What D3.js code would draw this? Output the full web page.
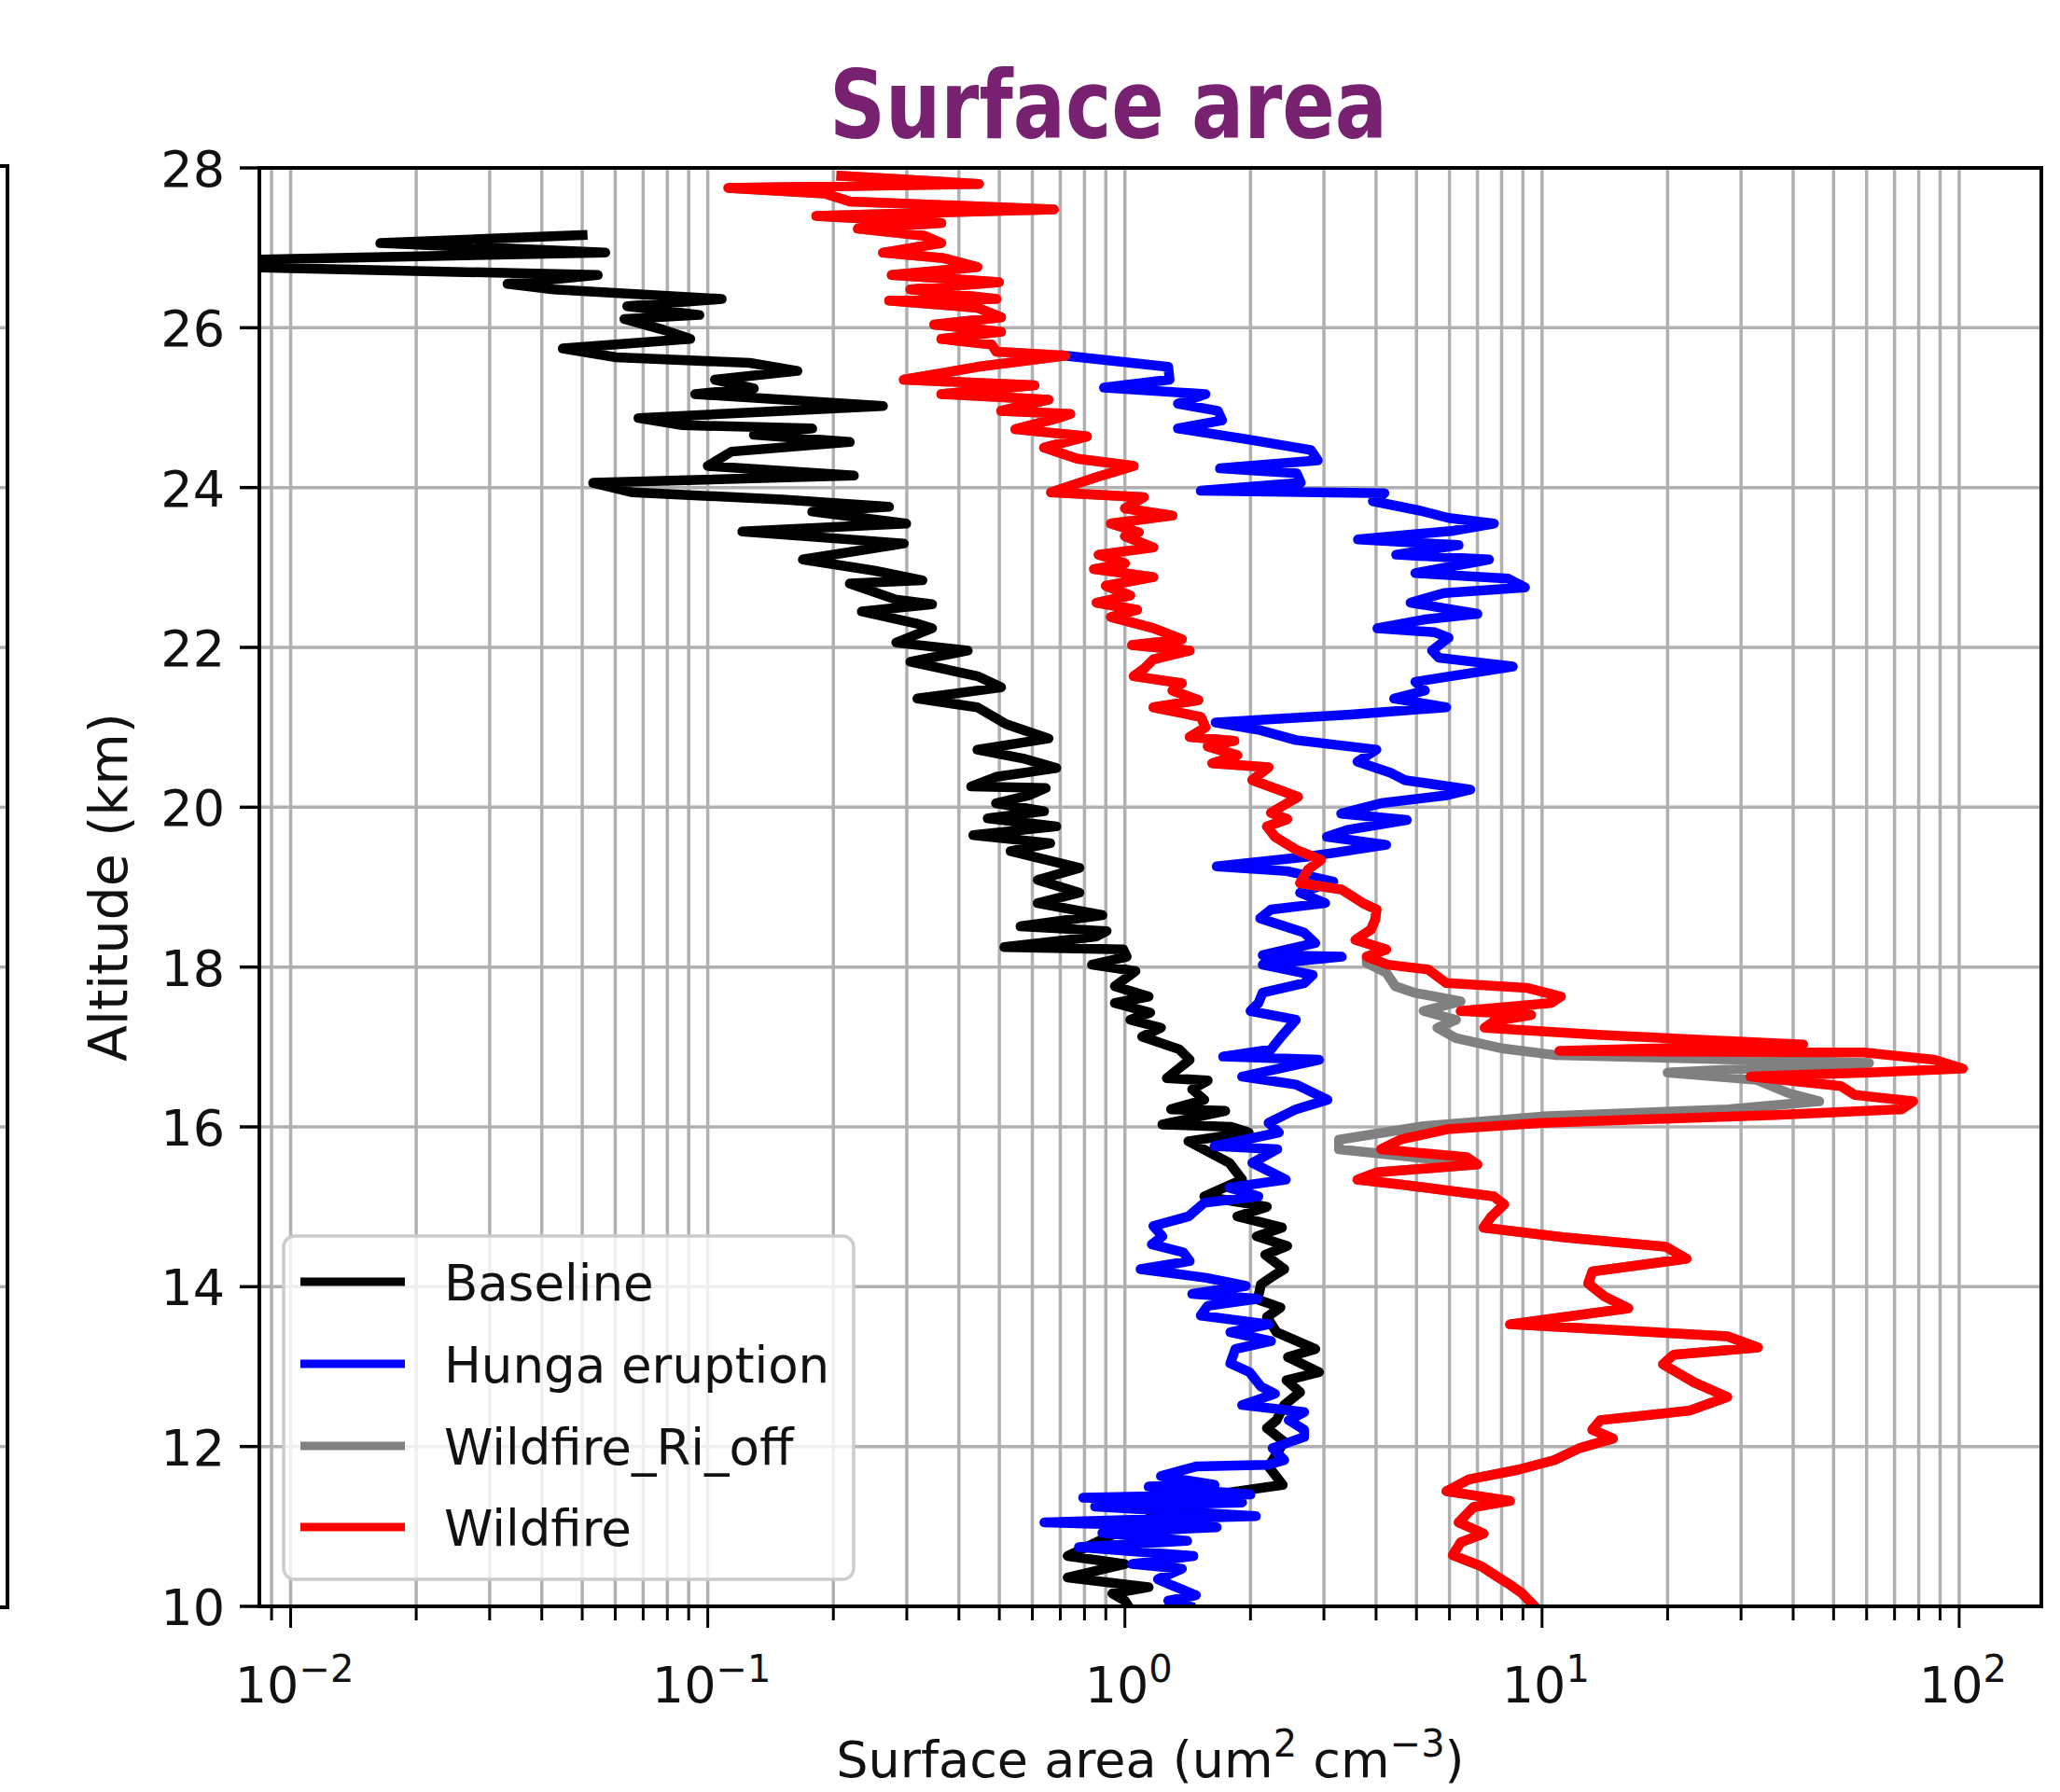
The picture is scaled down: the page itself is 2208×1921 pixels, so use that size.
<!DOCTYPE html>
<html>
<head>
<meta charset="utf-8">
<script src="https://cdn.jsdelivr.net/npm/d3@7"></script>
<style>
  body { margin: 0; background: #fff; }
  svg { display: block; }
  text { font-family: "DejaVu Sans", sans-serif; fill: #111; }
</style>
</head>
<body>
<svg id="chart" width="2208" height="1921"></svg>
<script>
// [altitude km, surface area um2 cm-3] from top to bottom
var baseline = [[27.16,0.0501],[27.06,0.0164],[26.94,0.0568],[26.83,0.005],[26.78,0.005],[26.66,0.0545],[26.55,0.0331],[26.48,0.0427],[26.36,0.108],[26.27,0.0641],[26.16,0.0955],[26.11,0.0631],[25.97,0.0787],[25.86,0.0908],[25.74,0.0449],[25.63,0.0603],[25.56,0.126],[25.46,0.164],[25.35,0.104],[25.24,0.129],[25.17,0.0933],[25.02,0.263],[24.87,0.0682],[24.78,0.0871],[24.74,0.178],[24.66,0.129],[24.57,0.219],[24.45,0.114],[24.27,0.1],[24.15,0.224],[24.06,0.0531],[23.94,0.0661],[23.85,0.151],[23.76,0.272],[23.7,0.178],[23.55,0.299],[23.45,0.121],[23.3,0.295],[23.1,0.169],[22.96,0.251],[22.84,0.327],[22.8,0.219],[22.6,0.282],[22.54,0.345],[22.45,0.234],[22.3,0.316],[22.24,0.345],[22.06,0.283],[21.96,0.42],[21.82,0.306],[21.64,0.443],[21.5,0.505],[21.36,0.318],[21.25,0.443],[21.04,0.519],[20.86,0.656],[20.72,0.443],[20.61,0.57],[20.49,0.685],[20.38,0.491],[20.26,0.428],[20.24,0.646],[20.15,0.59],[20.05,0.491],[19.95,0.64],[19.86,0.469],[19.76,0.685],[19.65,0.433],[19.55,0.662],[19.45,0.532],[19.24,0.778],[19.09,0.618],[18.93,0.778],[18.8,0.618],[18.65,0.883],[18.51,0.562],[18.45,0.904],[18.38,0.851],[18.25,0.514],[18.22,0.991],[18.13,1.01],[18.03,0.834],[17.95,1.06],[17.76,0.946],[17.63,1.14],[17.55,0.946],[17.43,1.15],[17.34,1.03],[17.24,1.22],[17.13,1.1],[16.97,1.35],[16.84,1.43],[16.61,1.26],[16.58,1.58],[16.47,1.45],[16.34,1.55],[16.22,1.29],[16.2,1.74],[16.03,1.23],[16.0,1.8],[15.93,1.98],[15.82,1.42],[15.55,1.78],[15.34,1.91],[15.13,1.55],[15.0,2.19],[14.88,1.86],[14.74,2.38],[14.63,2.07],[14.51,2.45],[14.4,2.17],[14.22,2.41],[14.13,2.26],[14.03,2.12],[13.84,2.08],[13.74,2.36],[13.62,2.19],[13.43,2.31],[13.22,2.86],[13.12,2.46],[12.93,2.92],[12.83,2.44],[12.68,2.63],[12.52,2.41],[12.33,2.31],[12.23,2.19],[12.06,2.41],[11.75,2.21],[11.52,2.39],[11.42,1.75],[11.2,1.26],[10.86,0.902],[10.63,0.729],[10.53,1.0],[10.36,0.729],[10.24,1.14],[10.16,0.933],[10.07,1.0],[10.0,1.02]];

var hunga = [[25.65,0.719],[25.51,1.27],[25.35,1.28],[25.25,0.891],[25.17,1.56],[25.05,1.34],[24.96,1.67],[24.84,1.71],[24.74,1.34],[24.61,1.93],[24.47,2.79],[24.34,2.9],[24.24,1.69],[24.18,2.58],[24.06,2.64],[23.96,1.52],[23.93,4.19],[23.83,3.93],[23.71,5.11],[23.62,5.97],[23.55,7.67],[23.46,6.14],[23.35,3.62],[23.28,6.31],[23.16,4.47],[23.1,7.46],[22.93,4.97],[22.86,8.3],[22.75,9.1],[22.68,5.82],[22.56,4.84],[22.42,7.0],[22.35,5.24],[22.24,4.03],[22.19,5.52],[22.12,5.97],[21.96,5.45],[21.87,5.66],[21.8,7.38],[21.76,8.51],[21.57,4.97],[21.46,5.24],[21.36,4.42],[21.25,5.89],[21.16,3.48],[21.06,1.65],[20.97,2.09],[20.84,2.57],[20.72,4.01],[20.57,3.61],[20.43,4.34],[20.34,4.68],[20.22,6.73],[20.15,5.92],[20.05,4.11],[19.92,3.3],[19.84,4.74],[19.72,3.44],[19.63,3.05],[19.53,4.23],[19.43,3.18],[19.38,2.72],[19.26,1.66],[19.2,2.45],[19.07,3.16],[18.93,2.63],[18.8,3.02],[18.72,2.24],[18.61,2.11],[18.43,2.69],[18.3,2.86],[18.15,2.14],[18.13,3.31],[18.03,2.14],[17.9,2.82],[17.8,2.69],[17.68,2.14],[17.55,2.09],[17.45,2.0],[17.34,2.57],[17.13,2.37],[16.97,2.24],[16.88,1.72],[16.84,2.92],[16.63,1.91],[16.53,2.57],[16.34,3.06],[16.22,2.57],[16.05,2.21],[15.93,2.34],[15.76,1.64],[15.72,2.32],[15.55,2.02],[15.34,2.43],[15.24,1.78],[15.13,2.09],[15.05,1.55],[14.88,1.42],[14.76,1.17],[14.63,1.23],[14.53,1.16],[14.43,1.38],[14.32,1.43],[14.22,1.09],[14.11,1.57],[14.01,1.95],[13.91,1.45],[13.85,2.08],[13.76,1.58],[13.64,1.52],[13.53,2.21],[13.43,1.79],[13.32,2.24],[13.22,1.84],[13.04,1.79],[12.93,1.99],[12.75,2.12],[12.66,2.29],[12.52,1.91],[12.43,2.69],[12.33,2.47],[12.21,2.69],[12.12,2.69],[11.98,2.26],[11.83,2.41],[11.77,2.19],[11.75,1.48],[11.63,1.22],[11.52,1.64],[11.5,1.14],[11.4,2.0],[11.36,0.794],[11.3,1.91],[11.25,0.848],[11.13,2.06],[11.05,0.641],[10.99,1.66],[10.92,0.883],[10.82,1.41],[10.74,0.776],[10.63,1.46],[10.53,1.04],[10.47,1.37],[10.34,1.2],[10.26,1.3],[10.14,1.48],[10.07,1.27],[10.0,1.43]];

var wildfire = [[27.9,0.209],[27.8,0.447],[27.75,0.112],[27.68,0.191],[27.58,0.219],[27.48,0.676],[27.4,0.182],[27.31,0.363],[27.24,0.229],[27.15,0.331],[27.06,0.363],[26.94,0.263],[26.87,0.368],[26.76,0.443],[26.66,0.276],[26.57,0.499],[26.48,0.306],[26.36,0.492],[26.34,0.272],[26.25,0.443],[26.13,0.505],[26.04,0.349],[25.95,0.505],[25.86,0.363],[25.79,0.479],[25.7,0.492],[25.65,0.719],[25.51,0.443],[25.35,0.295],[25.28,0.607],[25.17,0.363],[25.1,0.656],[24.96,0.505],[24.92,0.74],[24.87,0.692],[24.73,0.546],[24.64,0.811],[24.5,0.64],[24.36,0.769],[24.27,1.05],[24.13,0.855],[24.04,0.759],[23.94,0.665],[23.88,1.11],[23.74,1.0],[23.65,1.3],[23.55,0.925],[23.44,1.08],[23.39,1.0],[23.25,1.17],[23.16,0.865],[23.05,1.0],[22.98,0.843],[22.88,1.17],[22.77,0.9],[22.65,1.03],[22.56,0.855],[22.47,1.07],[22.38,0.925],[22.24,1.17],[22.1,1.37],[22.03,1.04],[21.96,1.43],[21.85,1.17],[21.73,1.11],[21.64,1.05],[21.55,1.37],[21.46,1.3],[21.34,1.5],[21.25,1.17],[21.13,1.52],[21.0,1.56],[20.88,1.43],[20.83,1.83],[20.76,1.58],[20.65,1.86],[20.55,1.62],[20.5,2.21],[20.34,2.02],[20.13,2.6],[19.93,2.24],[19.85,2.45],[19.76,2.19],[19.63,2.29],[19.47,2.57],[19.34,2.95],[19.22,2.75],[19.05,2.63],[18.97,3.31],[18.8,3.72],[18.72,4.01],[18.59,3.98],[18.47,3.89],[18.34,3.57],[18.22,4.23],[18.13,3.8],[18.03,4.27],[17.97,5.33],[17.8,5.89],[17.74,9.18],[17.63,11.1],[17.55,10.5],[17.45,6.38],[17.4,9.42],[17.32,7.66],[17.24,7.28],[17.15,13.9],[17.03,42.3],[16.95,11.0],[16.93,59.2],[16.84,87.1],[16.73,102],[16.68,60.8],[16.63,31.6],[16.51,52.0],[16.4,56.2],[16.32,77.6],[16.22,72.8],[16.15,36.3],[16.05,10.0],[15.97,5.92],[15.84,4.57],[15.72,4.11],[15.62,6.61],[15.53,7.0],[15.43,4.01],[15.34,3.61],[15.28,4.57],[15.13,7.66],[15.03,8.11],[14.88,7.57],[14.74,7.24],[14.62,11.2],[14.5,19.8],[14.35,22.2],[14.19,13.2],[14.04,12.9],[13.88,14.1],[13.73,16.1],[13.53,8.38],[13.38,27.8],[13.24,32.9],[13.15,20.7],[13.03,19.5],[12.8,23.2],[12.62,27.8],[12.45,22.6],[12.33,13.8],[12.21,13.2],[12.1,14.8],[11.98,12.3],[11.83,10.7],[11.71,8.77],[11.59,6.68],[11.44,5.9],[11.32,8.38],[11.24,6.84],[11.05,6.31],[10.91,7.24],[10.8,6.38],[10.64,6.11],[10.5,7.16],[10.4,7.66],[10.27,8.38],[10.16,8.97],[10.0,9.6]];

// Wildfire_Ri_off only leaves the Wildfire profile between these altitudes
var riOffMid = [[18.05,3.8],[17.93,4.23],[17.76,4.45],[17.68,4.93],[17.57,6.38],[17.45,5.2],[17.34,6.22],[17.24,5.61],[17.11,6.22],[16.98,8.07],[16.9,10.7],[16.8,60.8],[16.68,20.0],[16.59,32.6],[16.42,39.1],[16.32,46.2],[16.22,27.9],[16.13,10.0],[16.01,5.2],[15.84,3.26],[15.72,3.26],[15.61,5.2],[15.53,7.0]];

var wildfireRiOff = wildfire.filter(function(d){ return d[0] > 18.05; })
  .concat(riOffMid)
  .concat(wildfire.filter(function(d){ return d[0] < 15.53; }));

var seriesNames = ["Baseline", "Hunga eruption", "Wildfire_Ri_off", "Wildfire"];
var seriesData = [baseline, hunga, wildfireRiOff, wildfire];
var seriesColors = ["#000000", "#0000ff", "#808080", "#ff0000"];

var altTicks = [10, 12, 14, 16, 18, 20, 22, 24, 26, 28];
var areaMajor = [0.01, 0.1, 1, 10, 100];
var areaExp = ["\u22122", "\u22121", "0", "1", "2"];

var svg = d3.select("#chart");

var plot = {left: 278, right: 2188, top: 180, bottom: 1722};

var x = d3.scaleLog()
      .domain([Math.pow(10, -2.075), Math.pow(10, 2.197)])
      .range([plot.left, plot.right]);
var y = d3.scaleLinear()
      .domain([10, 28])
      .range([plot.bottom, plot.top]);

var allXTicks = x.ticks();
var isMajor = function(v){ return Math.abs(Math.log10(v) - Math.round(Math.log10(v))) < 1e-6; };

svg.append("defs").append("clipPath")
  .attr("id", "plotclip")
  .append("rect")
  .attr("x", plot.left).attr("y", plot.top)
  .attr("width", plot.right - plot.left).attr("height", plot.bottom - plot.top);

// edge of the neighbouring panel on the left
var edge = svg.append("g");
edge.selectAll("line.stub")
  .data(altTicks.slice(1, -1))
  .enter().append("line")
  .attr("x1", 0).attr("x2", 7)
  .attr("y1", function(d){ return y(d); }).attr("y2", function(d){ return y(d); })
  .attr("stroke", "#b0b0b0").attr("stroke-width", 3.5);
edge.append("path")
  .attr("d", "M0," + (plot.top - 2) + "H8V" + (plot.bottom + 1) + "H0")
  .attr("fill", "none").attr("stroke", "#000").attr("stroke-width", 4);

// grid
var grid = svg.append("g").attr("class", "grid");
grid.selectAll("line.vx")
  .data(allXTicks)
  .enter().append("line")
  .attr("x1", function(d){ return x(d); }).attr("x2", function(d){ return x(d); })
  .attr("y1", plot.top).attr("y2", plot.bottom)
  .attr("stroke", "#b0b0b0").attr("stroke-width", 3.5);
grid.selectAll("line.hy")
  .data(altTicks)
  .enter().append("line")
  .attr("x1", plot.left).attr("x2", plot.right)
  .attr("y1", function(d){ return y(d); }).attr("y2", function(d){ return y(d); })
  .attr("stroke", "#b0b0b0").attr("stroke-width", 3.5);

// profiles
var line = d3.line()
      .x(function(d){ return x(d[1]); })
      .y(function(d){ return y(d[0]); });

svg.append("g")
  .attr("clip-path", "url(#plotclip)")
  .selectAll("path")
  .data(seriesData)
  .enter().append("path")
  .attr("d", line)
  .attr("fill", "none")
  .attr("stroke", function(d, i){ return seriesColors[i]; })
  .attr("stroke-width", 10.5)
  .attr("stroke-linejoin", "round")
  .attr("stroke-linecap", "square");

// spines
svg.append("rect")
  .attr("x", plot.left).attr("y", plot.top)
  .attr("width", plot.right - plot.left).attr("height", plot.bottom - plot.top)
  .attr("fill", "none").attr("stroke", "#000").attr("stroke-width", 4);

// ticks
var ticks = svg.append("g");
ticks.selectAll("line.xt")
  .data(allXTicks)
  .enter().append("line")
  .attr("x1", function(d){ return x(d); }).attr("x2", function(d){ return x(d); })
  .attr("y1", plot.bottom)
  .attr("y2", function(d){ return plot.bottom + (isMajor(d) ? 23 : 15); })
  .attr("stroke", "#000").attr("stroke-width", 3);
ticks.selectAll("line.yt")
  .data(altTicks)
  .enter().append("line")
  .attr("x1", plot.left - 21).attr("x2", plot.left)
  .attr("y1", function(d){ return y(d); }).attr("y2", function(d){ return y(d); })
  .attr("stroke", "#000").attr("stroke-width", 3.5);

ticks.selectAll("text.yl")
  .data(altTicks)
  .enter().append("text")
  .attr("x", 241)
  .attr("y", function(d){ return y(d) + 20; })
  .attr("text-anchor", "end")
  .attr("font-size", 54)
  .text(function(d){ return d; });

var xl = ticks.selectAll("text.xl")
      .data(areaMajor)
      .enter().append("text")
      .attr("x", function(d){ return x(d) + 4; })
      .attr("y", 1825)
      .attr("text-anchor", "middle")
      .attr("font-size", 54);
xl.append("tspan").text("10");
xl.append("tspan")
  .attr("dy", -22)
  .attr("font-size", 40)
  .text(function(d, i){ return areaExp[i]; });

// axis labels
var xlab = svg.append("text")
      .attr("x", (plot.left + plot.right) / 2)
      .attr("y", 1905)
      .attr("text-anchor", "middle")
      .attr("font-size", 54);
xlab.append("tspan").text("Surface area (um");
xlab.append("tspan").attr("dy", -22).attr("font-size", 40).text("2");
xlab.append("tspan").attr("dy", 22).text(" cm");
xlab.append("tspan").attr("dy", -22).attr("font-size", 40).text("\u22123");
xlab.append("tspan").attr("dy", 22).text(")");

svg.append("text")
  .attr("transform", "translate(136," + ((plot.top + plot.bottom) / 2) + ") rotate(-90)")
  .attr("text-anchor", "middle")
  .attr("font-size", 57)
  .text("Altitude (km)");

// title
svg.append("text")
  .attr("x", 1188)
  .attr("y", 148)
  .attr("text-anchor", "middle")
  .attr("font-family", "Lato, 'Open Sans', sans-serif")
  .attr("font-weight", "bold")
  .attr("font-size", 102)
  .attr("textLength", 598)
  .attr("lengthAdjust", "spacingAndGlyphs")
  .style("fill", "#782170")
  .text("Surface area");

// legend
var legend = svg.append("g");
legend.append("rect")
  .attr("x", 304).attr("y", 1325)
  .attr("width", 611).attr("height", 368)
  .attr("rx", 12)
  .attr("fill", "#fff").attr("fill-opacity", 0.8)
  .attr("stroke", "#cccccc").attr("stroke-width", 3.5);

var legendY = [1374, 1462, 1550, 1637];
var item = legend.selectAll("g.item")
      .data(seriesNames)
      .enter().append("g")
      .attr("transform", function(d, i){ return "translate(0," + legendY[i] + ")"; });
item.append("line")
  .attr("x1", 322).attr("x2", 434)
  .attr("stroke", function(d, i){ return seriesColors[i]; })
  .attr("stroke-width", 9);
item.append("text")
  .attr("x", 476)
  .attr("y", 20)
  .attr("font-size", 53)
  .text(function(d){ return d; });
</script>
</body>
</html>
